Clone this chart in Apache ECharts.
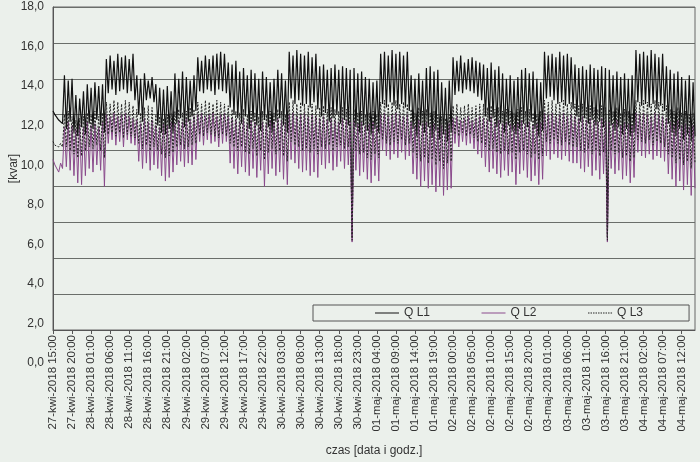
<!DOCTYPE html>
<html>
<head>
<meta charset="utf-8">
<script src="https://cdn.jsdelivr.net/npm/echarts@6/dist/echarts.min.js"></script>
<style>
  html, body { margin: 0; padding: 0; background: #ebf0eb; }
  #main { width: 700px; height: 462px; }
</style>
</head>
<body>
<div id="main"></div>
<script>
// dni na osi X (co pol godziny od 27-kwi 15:00)
var days = ['27-kwi-2018', '28-kwi-2018', '29-kwi-2018', '30-kwi-2018',
            '01-maj-2018', '02-maj-2018', '03-maj-2018', '04-maj-2018'];

// obwiednie mocy biernej [kvar], co godzine: gora / dol
var l1Hi = [
  12.2, 11.9, 11.8,
  14.2, 13.9, 14.0, 13.1, 12.9, 13.3, 13.7, 13.5, 13.8, 13.6, 13.7,
  15.1, 15.3, 15.0, 15.4, 15.2, 15.3, 15.1, 15.4,
  14.2, 14.0, 14.3, 13.9, 14.1, 13.7, 13.5, 13.4, 13.6, 13.3, 14.3, 14.0, 14.4, 14.1, 13.9, 14.2,
  15.2, 15.0, 15.3, 15.1, 15.3, 15.4, 15.5, 15.4,
  14.9, 14.8, 15.0, 14.4, 14.6, 14.2, 14.5, 14.3, 14.0, 14.4, 14.1, 13.8, 14.0, 14.5, 14.3, 13.9,
  15.5, 15.3, 15.6, 15.4, 15.3, 15.5, 15.2, 15.4,
  14.7, 14.8, 14.5, 14.6, 14.8, 14.5, 14.7, 14.6, 14.5, 14.6, 14.3, 14.4, 14.1, 14.0, 13.8, 13.9,
  15.4, 15.5, 15.3, 15.6, 15.4, 15.5, 15.3, 15.5,
  14.2, 14.0, 14.3, 13.9, 14.6, 14.7, 14.4, 14.5, 13.8, 13.5, 13.9,
  15.2, 15.0, 15.3, 14.9, 15.1, 15.2, 15.0, 14.9,
  14.8, 14.6, 14.9, 14.5, 14.7, 14.3, 14.0, 14.2, 13.9, 14.1, 14.5, 14.6, 14.3, 14.4, 14.0, 13.8,
  15.5, 15.3, 15.4, 15.2, 15.5, 15.3, 15.4, 15.2,
  14.8, 14.6, 14.7, 14.5, 14.8, 14.6, 14.5, 14.7, 14.6,
  14.5, 14.2, 14.4, 14.1, 14.3, 14.0, 14.2,
  15.6, 15.4, 15.5, 15.3, 15.6, 15.4, 15.2, 15.4,
  14.7, 14.5, 14.3, 14.4, 14.1, 13.9, 14.2, 13.8
];
var l1Lo = [
  12.0, 11.7, 11.5,
  11.2, 11.6, 11.0, 10.8, 11.3, 10.9, 11.5, 11.2, 11.7, 11.4, 11.0,
  13.2, 13.4, 13.1, 13.3, 13.4, 13.2, 13.3, 12.8,
  12.0, 11.6, 12.8, 12.9, 12.7, 11.4, 11.0, 10.9, 11.2, 11.0, 11.5, 11.8, 11.3, 11.6, 11.9, 12.2,
  13.3, 13.2, 13.4, 13.3, 13.1, 13.4, 13.3, 13.2,
  12.4, 12.0, 11.8, 11.5, 11.9, 11.2, 11.6, 11.4, 11.1, 11.7, 11.3, 11.0, 11.6, 11.8, 11.4, 11.0,
  12.9, 12.6, 12.8, 12.5, 12.6, 12.4, 12.7, 12.3,
  11.9, 12.1, 11.6, 11.8, 12.0, 11.5, 11.7, 11.4, 5.2, 11.3, 11.0, 11.4, 11.1, 10.9, 11.2, 11.0,
  12.6, 12.4, 12.7, 12.5, 12.3, 12.6, 12.4, 12.2,
  11.2, 10.8, 11.4, 11.0, 11.3, 10.7, 11.1, 10.6, 10.9, 10.5, 11.0,
  13.1, 13.3, 13.2, 13.4, 13.3, 13.2, 13.0, 12.8,
  11.9, 11.6, 11.8, 11.3, 11.5, 11.0, 11.4, 11.1, 10.9, 11.2, 11.5, 11.3, 11.6, 11.2, 10.8, 11.1,
  12.9, 13.0, 12.8, 12.6, 12.7, 12.5, 12.6, 12.3,
  11.9, 11.6, 11.8, 11.5, 11.7, 11.4, 11.6, 11.3, 5.2,
  11.4, 11.1, 11.3, 10.9, 11.2, 10.8, 11.0,
  12.7, 12.5, 12.6, 12.4, 12.6, 12.3, 12.5, 12.2,
  11.5, 11.0, 10.8, 11.2, 10.6, 10.9, 10.5, 10.8
];
var l2Hi = [
  9.5, 9.1, 9.3,
  11.3, 11.6, 11.4, 11.2, 11.5, 11.3, 11.6, 11.4, 11.5, 11.3, 11.6,
  12.0, 11.9, 12.1, 11.9, 12.0, 12.1, 11.9, 11.8,
  11.7, 11.5, 11.8, 11.6, 11.7, 11.4, 11.3, 11.5, 11.4, 11.6, 11.5, 11.7, 11.6, 11.8, 11.7, 11.9,
  12.0, 12.1, 11.9, 12.0, 12.1, 11.9, 12.0, 12.1,
  11.9, 11.8, 11.7, 11.6, 11.8, 11.5, 11.7, 11.6, 11.4, 11.6, 11.5, 11.7, 11.6, 11.8, 11.7, 11.6,
  12.0, 12.1, 11.9, 12.0, 12.1, 11.9, 12.0, 11.9,
  11.8, 11.9, 11.7, 11.8, 11.7, 11.6, 11.8, 11.7, 11.6, 11.7, 11.5, 11.6, 11.4, 11.5, 11.6, 11.4,
  12.0, 12.1, 11.9, 12.0, 12.1, 12.0, 11.9, 12.0,
  11.6, 11.4, 11.7, 11.5, 11.6, 11.4, 11.5, 11.3, 11.4, 11.2, 11.5,
  11.8, 11.9, 11.7, 11.8, 11.9, 11.7, 11.8, 11.9,
  11.8, 11.7, 11.9, 11.6, 11.7, 11.5, 11.6, 11.5, 11.4, 11.6, 11.7, 11.5, 11.6, 11.4, 11.5, 11.6,
  12.1, 12.0, 12.1, 11.9, 12.0, 12.1, 11.9, 12.0,
  11.9, 11.8, 11.9, 11.7, 11.8, 11.7, 11.6, 11.8, 11.7,
  11.6, 11.5, 11.7, 11.4, 11.6, 11.5, 11.4,
  12.1, 12.0, 12.1, 12.0, 11.9, 12.1, 12.0, 11.9,
  11.8, 11.6, 11.5, 11.7, 11.4, 11.5, 11.3, 11.4
];
var l2Lo = [
  9.2, 8.8, 9.0,
  9.1, 8.9, 8.6, 8.2, 8.1, 8.6, 9.0, 8.8, 9.2, 8.9, 8.0,
  10.4, 10.6, 10.3, 10.5, 10.2, 10.6, 10.4, 10.3,
  9.4, 9.0, 9.3, 8.9, 9.2, 9.0, 8.6, 8.3, 8.5, 8.8, 9.2, 9.4, 9.1, 9.3, 9.2, 9.5,
  10.5, 10.3, 10.6, 10.4, 10.5, 10.2, 10.4, 10.5,
  9.3, 9.0, 8.7, 9.1, 8.8, 8.6, 9.0, 8.5, 8.9, 8.0, 8.7, 9.0, 8.6, 8.8, 8.4, 8.1,
  9.5, 9.3, 9.0, 8.8, 8.9, 8.6, 8.8, 8.5,
  9.2, 9.0, 9.3, 8.9, 9.1, 9.4, 9.0, 9.2, 4.9, 8.9, 8.6, 8.8, 8.4, 8.2, 8.6, 8.3,
  10.0, 9.7, 9.5, 9.8, 9.6, 9.9, 9.5, 9.7,
  8.7, 8.4, 8.0, 8.3, 7.9, 8.1, 7.7, 8.0, 7.5, 7.8, 7.9,
  10.4, 10.2, 10.5, 10.3, 10.4, 10.1, 9.8, 9.6,
  9.1, 8.8, 9.0, 8.7, 8.5, 8.9, 8.6, 8.8, 8.1, 8.7, 8.9, 8.5, 8.3, 8.6, 8.1, 8.4,
  9.7, 9.5, 9.8, 9.6, 9.5, 9.7, 9.4, 9.3,
  9.3, 9.0, 8.8, 9.1, 8.6, 8.9, 8.4, 8.7, 4.9,
  9.0, 8.7, 8.9, 8.4, 8.6, 8.2, 8.5,
  9.9, 9.7, 9.6, 9.8, 9.5, 9.7, 9.6, 9.4,
  8.7, 8.4, 8.0, 8.3, 7.8, 8.1, 7.5, 7.9
];
var l3Hi = [
  10.5, 10.3, 10.4,
  12.0, 12.2, 11.9, 11.7, 11.8, 11.9, 12.1, 12.0, 12.2, 11.9, 12.1,
  12.7, 12.6, 12.8, 12.7, 12.6, 12.8, 12.7, 12.5,
  12.3, 12.1, 12.4, 12.5, 12.4, 12.0, 11.9, 11.8, 12.0, 12.1, 12.2, 12.3, 12.1, 12.2, 12.4, 12.3,
  12.7, 12.6, 12.8, 12.7, 12.6, 12.8, 12.7, 12.6,
  12.5, 12.3, 12.2, 12.1, 12.3, 12.0, 12.2, 12.1, 11.9, 12.2, 12.0, 12.2, 12.1, 12.3, 12.2, 12.0,
  12.7, 12.8, 12.6, 12.7, 12.6, 12.5, 12.6, 12.5,
  12.4, 12.5, 12.3, 12.4, 12.3, 12.2, 12.4, 12.3, 12.2, 12.3, 12.1, 12.2, 12.0, 12.1, 12.2, 12.0,
  12.7, 12.8, 12.6, 12.7, 12.8, 12.6, 12.7, 12.6,
  12.3, 12.1, 12.4, 12.2, 12.3, 12.1, 12.2, 12.0, 11.9, 11.8, 12.0,
  12.5, 12.6, 12.4, 12.5, 12.6, 12.4, 12.5, 12.6,
  12.6, 12.4, 12.5, 12.3, 12.4, 12.2, 12.3, 12.2, 12.1, 12.3, 12.4, 12.2, 12.3, 12.1, 12.0, 12.2,
  12.8, 12.7, 12.8, 12.6, 12.7, 12.8, 12.6, 12.7,
  12.6, 12.5, 12.6, 12.4, 12.5, 12.4, 12.3, 12.5, 12.4,
  12.3, 12.2, 12.4, 12.1, 12.3, 12.2, 12.1,
  12.8, 12.7, 12.8, 12.7, 12.6, 12.8, 12.7, 12.6,
  12.5, 12.3, 12.2, 12.4, 12.1, 12.2, 12.0, 12.1
];
var l3Lo = [
  10.3, 10.2, 10.2,
  10.2, 10.0, 9.8, 9.6, 9.7, 10.0, 10.2, 10.1, 10.3, 10.0, 9.6,
  10.9, 11.0, 10.8, 11.0, 10.7, 10.9, 10.8, 10.7,
  10.4, 10.1, 10.3, 10.0, 10.2, 10.0, 9.8, 9.6, 9.7, 9.9, 10.2, 10.3, 10.1, 10.2, 10.3, 10.4,
  10.9, 10.8, 11.0, 10.9, 10.8, 10.7, 10.9, 10.8,
  10.4, 10.2, 10.0, 10.2, 9.9, 9.8, 10.1, 9.7, 10.0, 9.5, 9.9, 10.1, 9.8, 10.0, 9.7, 9.4,
  10.5, 10.3, 10.2, 10.0, 10.1, 9.9, 10.1, 9.8,
  10.2, 10.1, 10.3, 10.0, 10.2, 10.3, 10.1, 10.2, 5.0, 10.0, 9.8, 9.9, 9.6, 9.5, 9.8, 9.6,
  10.6, 10.4, 10.3, 10.5, 10.4, 10.6, 10.3, 10.4,
  9.9, 9.6, 9.4, 9.6, 9.3, 9.5, 9.2, 9.4, 9.0, 9.3, 9.4,
  10.9, 10.8, 11.0, 10.8, 10.9, 10.7, 10.5, 10.4,
  10.2, 10.0, 10.1, 9.9, 9.8, 10.0, 9.8, 9.9, 9.5, 9.9, 10.0, 9.8, 9.6, 9.8, 9.5, 9.7,
  10.5, 10.4, 10.6, 10.4, 10.3, 10.5, 10.3, 10.2,
  10.2, 10.0, 9.9, 10.1, 9.8, 10.0, 9.7, 9.9, 5.0,
  10.0, 9.8, 9.9, 9.6, 9.7, 9.4, 9.6,
  10.6, 10.5, 10.4, 10.6, 10.3, 10.5, 10.4, 10.2,
  9.8, 9.6, 9.3, 9.5, 9.2, 9.4, 9.0, 9.3
];

// os X: co pol godziny, gora i dol obwiedni na przemian
var categories = [];
for (var i = 0; i < l1Hi.length * 2; i++) {
  var t = 15 * 60 + i * 30;
  var d = Math.floor(t / 1440);
  var m = t % 1440;
  var hh = Math.floor(m / 60), mm = m % 60;
  categories.push(days[d] + ' ' + (hh < 10 ? '0' : '') + hh + ':' + (mm < 10 ? '0' : '') + mm);
}
function zigzag(hi, lo) {
  var out = [];
  for (var k = 0; k < hi.length; k++) {
    out.push(hi[k], lo[k]);
  }
  return out;
}

// ikony legendy: linia ciagla i kropkowana
var solidIcon = 'path://M0,0H24V1H0Z';
var dotIcon = 'path://M0,0h1.4v1h-1.4z M2.4,0h1.4v1h-1.4z M4.8,0h1.4v1h-1.4z M7.2,0h1.4v1h-1.4z' +
  ' M9.6,0h1.4v1h-1.4z M12,0h1.4v1h-1.4z M14.4,0h1.4v1h-1.4z M16.8,0h1.4v1h-1.4z' +
  ' M19.2,0h1.4v1h-1.4z M21.6,0h1.4v1h-1.4z';

var font = 'Liberation Sans, Arial, sans-serif';
var myChart = echarts.init(document.getElementById('main'));
var option = {
  backgroundColor: '#ebf0eb',
  animation: false,
  textStyle: { fontFamily: font },
  legend: {
    left: 313,
    top: 305,
    orient: 'horizontal',
    padding: [2, 46, 2, 62],
    itemGap: 51.5,
    itemWidth: 24,
    itemHeight: 13,
    borderColor: '#555',
    borderWidth: 1,
    borderRadius: 0,
    backgroundColor: '#ebf0eb',
    textStyle: { fontSize: 12, color: '#333', fontFamily: font },
    data: [
      { name: 'Q L1', icon: solidIcon },
      { name: 'Q L2', icon: solidIcon },
      { name: 'Q L3', icon: dotIcon }
    ]
  },
  grid: [
    { left: 51, right: 5, top: 7, bottom: 131, show: true, borderColor: '#666', borderWidth: 1, backgroundColor: 'transparent' },
    // tylko do podpisow osi Y (przesuniete jak w oryginale)
    { left: 51, right: 5, top: 7, bottom: 99, show: false }
  ],
  xAxis: [
    {
      type: 'category',
      gridIndex: 0,
      data: categories,
      boundaryGap: false,
      name: 'czas [data i godz.]',
      nameLocation: 'middle',
      nameGap: 115,
      nameTextStyle: { fontSize: 12, color: '#333' },
      axisLine: { lineStyle: { color: '#555', width: 1 } },
      axisTick: { interval: 9, length: 4, lineStyle: { color: '#555' } },
      axisLabel: { interval: 9, rotate: 90, fontSize: 11.5, color: '#333', margin: 5 },
      splitLine: { show: false }
    },
    { type: 'value', gridIndex: 1, show: false, min: 0, max: 1 }
  ],
  yAxis: [
    {
      type: 'value',
      gridIndex: 0,
      min: 0,
      max: 18,
      interval: 2,
      name: '[kvar]',
      nameLocation: 'middle',
      nameGap: 33,
      nameTextStyle: { fontSize: 12, color: '#333' },
      axisLine: { show: true, lineStyle: { color: '#555' } },
      axisTick: { show: false },
      axisLabel: { show: false },
      splitLine: { lineStyle: { color: '#6a6e6a', width: 1.2 } }
    },
    {
      type: 'value',
      gridIndex: 1,
      min: 0,
      max: 18,
      interval: 2,
      axisLine: { show: false },
      axisTick: { show: false },
      splitLine: { show: false },
      axisLabel: {
        fontSize: 12,
        color: '#333',
        margin: 7,
        formatter: function (v) { return v.toFixed(1).replace('.', ','); }
      }
    }
  ],
  series: [
    {
      name: 'Q L1',
      type: 'line',
      symbol: 'none',
      data: zigzag(l1Hi, l1Lo),
      lineStyle: { color: '#111', width: 1.2 },
      itemStyle: { color: '#111' }
    },
    {
      name: 'Q L2',
      type: 'line',
      symbol: 'none',
      data: zigzag(l2Hi, l2Lo),
      lineStyle: { color: '#8a4a8c', width: 1 },
      itemStyle: { color: '#8a4a8c' }
    },
    {
      name: 'Q L3',
      type: 'line',
      symbol: 'none',
      data: zigzag(l3Hi, l3Lo),
      lineStyle: { color: '#222', width: 1, type: [2, 1.5] },
      itemStyle: { color: '#222' }
    }
  ]
};
myChart.setOption(option);
</script>
</body>
</html>
